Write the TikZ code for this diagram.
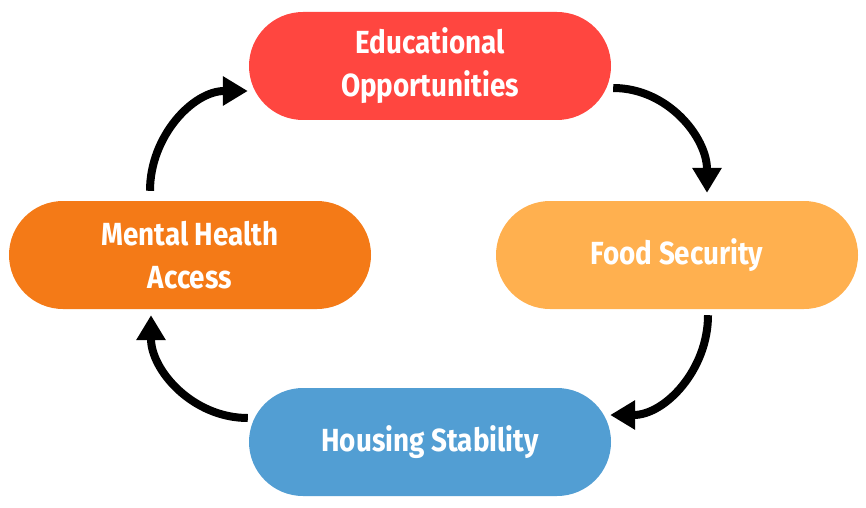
\documentclass[tikz,border=0pt]{standalone}
\usepackage{fontspec}
\newfontfamily\labfont[FakeStretch=0.87]{Fira Sans}
\usetikzlibrary{arrows.meta,calc}
\definecolor{cred}{HTML}{FF4640}
\definecolor{cyel}{HTML}{FFB04F}
\definecolor{cblu}{HTML}{529ED3}
\definecolor{corg}{HTML}{F47A17}
\tikzset{
  pill/.style={draw=none, rounded corners=54pt, minimum width=362pt, minimum height=108pt,
    text=white, font=\labfont\bfseries\fontsize{32}{43}\selectfont, align=center, inner sep=0pt},
  cyc/.style={line width=8pt, -{Triangle[length=25pt,width=28pt]}}
}
\begin{document}
\begin{tikzpicture}[x=1pt,y=1pt]
\useasboundingbox[fill=white] (0,0) rectangle (866,507);
\node[pill, fill=cred] (edu) at (430,441) {Educational\\Opportunities};
\node[pill, fill=cyel] (food) at (677,252) {Food Security};
\node[pill, fill=cblu] (house) at (430,65) {Housing Stability};
\node[pill, fill=corg] (mental) at (190,252) {Mental Health\\Access};
\draw[cyc] ($(mental.north)+(-40,10)$) to[out=90,in=180] ($(edu.west)+(-1,-25)$);
\draw[cyc] ($(edu.east)+(2,-22)$) to[out=0,in=90] ($(food.north)+(30,8)$);
\draw[cyc] ($(food.south)+(31,-6)$) to[out=-90,in=0] ($(house.east)+(-1,27)$);
\draw[cyc] ($(house.west)+(-1,24)$) to[out=180,in=-90] ($(mental.south)+(-39,-6)$);
\end{tikzpicture}
\end{document}
